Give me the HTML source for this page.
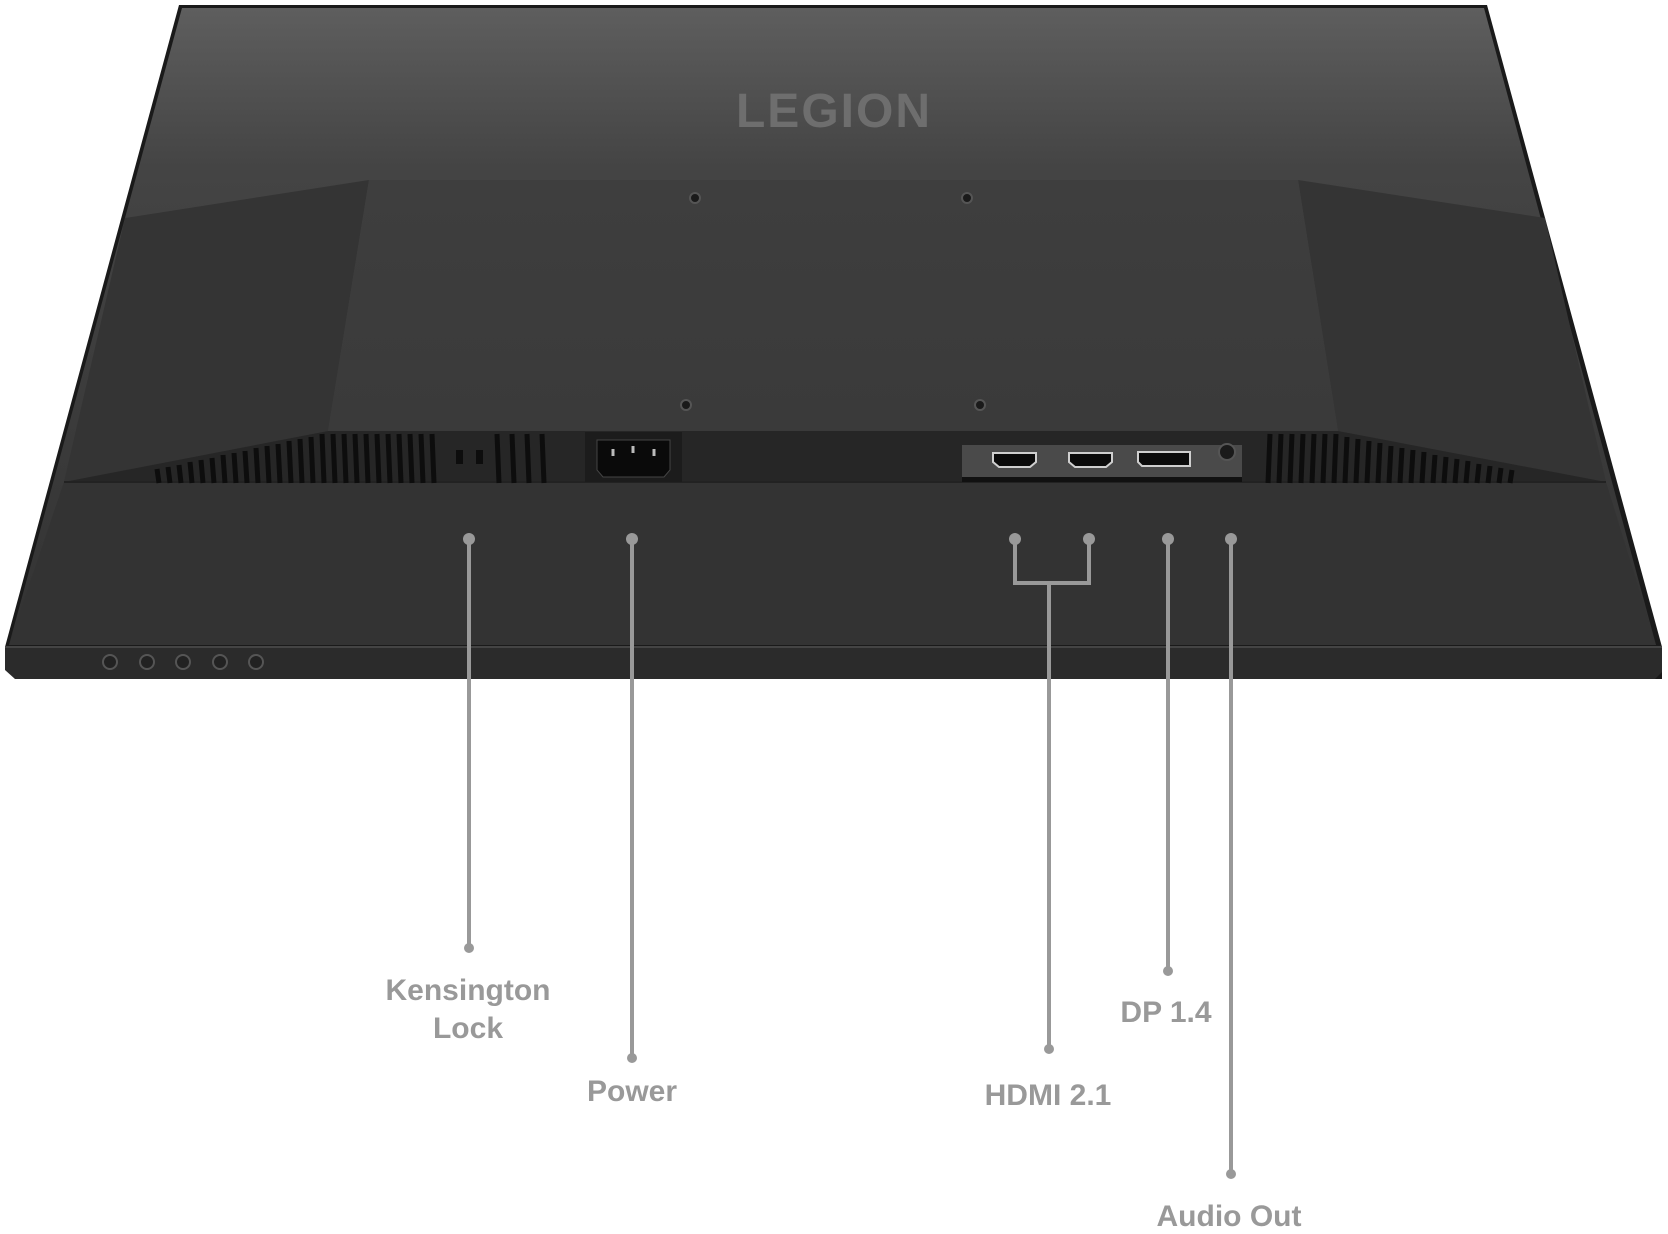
<!DOCTYPE html>
<html><head><meta charset="utf-8"><style>
html,body{margin:0;padding:0;background:#fff}
svg{display:block}
text{font-family:"Liberation Sans",sans-serif;fill:#999;font-size:30px;text-anchor:middle;font-weight:bold}
</style></head><body>
<svg width="1668" height="1234" viewBox="0 0 1668 1234" xmlns="http://www.w3.org/2000/svg">
<defs>
<linearGradient id="bg" x1="0" y1="0" x2="0" y2="1">
<stop offset="0" stop-color="#5e5e5e"/><stop offset="0.25" stop-color="#444"/><stop offset="1" stop-color="#333"/>
</linearGradient>
<linearGradient id="pn" x1="0" y1="0" x2="0" y2="1">
<stop offset="0" stop-color="#3e3e3e"/><stop offset="1" stop-color="#3a3a3a"/>
</linearGradient>
</defs>
<polygon points="179,5 1487,5 1662,647 1662,679 15,679 5,647" fill="#1a1a1a"/>
<polygon points="182,8 1484,8 1656,645 9,645" fill="url(#bg)"/>
<polygon points="5,647 1662,647 1662,672 1655,679 15,679 5,670" fill="#2b2b2b"/>
<line x1="5" y1="647" x2="1662" y2="647" stroke="#444" stroke-width="2"/>
<polygon points="125,218 369,180 328,431 64,482" fill="#343434"/>
<polygon points="1298,180 1545,218 1606,482 1338,431" fill="#343434"/>
<polygon points="369,180 1298,180 1338,431 328,431" fill="url(#pn)"/>
<polygon points="328,431 1338,431 1606,482 64,482" fill="#262626"/>
<polygon points="64,482 1606,482 1656,645 9,645" fill="#333"/>
<line x1="64" y1="482" x2="1606" y2="482" stroke="#222" stroke-width="2"/>
<g stroke="#0d0d0d" stroke-width="5">
<line x1="157" y1="469" x2="159" y2="483"/><line x1="168" y1="467" x2="170" y2="483"/><line x1="179" y1="465" x2="181" y2="483"/><line x1="190" y1="462" x2="192" y2="483"/><line x1="201" y1="460" x2="203" y2="483"/><line x1="212" y1="458" x2="214" y2="483"/><line x1="223" y1="455" x2="225" y2="483"/><line x1="234" y1="453" x2="236" y2="483"/><line x1="245" y1="451" x2="247" y2="483"/><line x1="256" y1="448" x2="258" y2="483"/><line x1="267" y1="446" x2="269" y2="483"/><line x1="278" y1="444" x2="280" y2="483"/><line x1="289" y1="441" x2="291" y2="483"/><line x1="300" y1="439" x2="302" y2="483"/><line x1="311" y1="437" x2="313" y2="483"/><line x1="322" y1="434" x2="324" y2="483"/><line x1="333" y1="434" x2="335" y2="483"/><line x1="344" y1="434" x2="346" y2="483"/><line x1="355" y1="434" x2="357" y2="483"/><line x1="366" y1="434" x2="368" y2="483"/><line x1="377" y1="434" x2="379" y2="483"/><line x1="388" y1="434" x2="390" y2="483"/><line x1="399" y1="434" x2="401" y2="483"/><line x1="410" y1="434" x2="412" y2="483"/><line x1="421" y1="434" x2="423" y2="483"/><line x1="432" y1="434" x2="434" y2="483"/>
<line x1="497" y1="434" x2="499" y2="483"/><line x1="512" y1="434" x2="514" y2="483"/><line x1="527" y1="434" x2="529" y2="483"/><line x1="542" y1="434" x2="544" y2="483"/>
</g>
<rect x="456" y="450" width="7" height="14" fill="#0d0d0d"/><rect x="476" y="450" width="7" height="14" fill="#0d0d0d"/>
<g stroke="#0d0d0d" stroke-width="5">
<line x1="1270" y1="434" x2="1268" y2="483"/><line x1="1281" y1="434" x2="1279" y2="483"/><line x1="1292" y1="434" x2="1290" y2="483"/><line x1="1303" y1="434" x2="1301" y2="483"/><line x1="1314" y1="434" x2="1312" y2="483"/><line x1="1325" y1="434" x2="1323" y2="483"/><line x1="1336" y1="434" x2="1334" y2="483"/><line x1="1347" y1="437" x2="1345" y2="483"/><line x1="1358" y1="439" x2="1356" y2="483"/><line x1="1369" y1="441" x2="1367" y2="483"/><line x1="1380" y1="443" x2="1378" y2="483"/><line x1="1391" y1="446" x2="1389" y2="483"/><line x1="1402" y1="448" x2="1400" y2="483"/><line x1="1413" y1="450" x2="1411" y2="483"/><line x1="1424" y1="452" x2="1422" y2="483"/><line x1="1435" y1="455" x2="1433" y2="483"/><line x1="1446" y1="457" x2="1444" y2="483"/><line x1="1457" y1="459" x2="1455" y2="483"/><line x1="1468" y1="461" x2="1466" y2="483"/><line x1="1479" y1="464" x2="1477" y2="483"/><line x1="1490" y1="466" x2="1488" y2="483"/><line x1="1501" y1="468" x2="1499" y2="483"/><line x1="1512" y1="470" x2="1510" y2="483"/>
</g>
<rect x="585" y="432" width="97" height="50" fill="#1c1c1c"/>
<polygon points="597,440 670,440 670,470 664,477 603,477 597,470" fill="#0a0a0a" stroke="#444"/>
<g stroke="#bbb" stroke-width="3"><line x1="613" y1="449" x2="613" y2="456"/><line x1="633" y1="446" x2="633" y2="453"/><line x1="654" y1="449" x2="654" y2="456"/></g>
<rect x="962" y="445" width="280" height="37" fill="#4a4a4a"/>
<rect x="962" y="477" width="280" height="5" fill="#111"/>
<g fill="#0b0b0b" stroke="#cfcfcf" stroke-width="2">
<polygon points="993,453 1036,453 1036,462 1030,467 999,467 993,462"/>
<polygon points="1069,453 1112,453 1112,462 1106,467 1075,467 1069,462"/>
<polygon points="1138,452 1190,452 1190,466 1142,466 1138,462"/>
</g>
<circle cx="1227" cy="452" r="8" fill="#1a1a1a" stroke="#555" stroke-width="2"/>
<g fill="#1a1a1a" stroke="#555" stroke-width="2">
<circle cx="695" cy="198" r="5"/><circle cx="967" cy="198" r="5"/><circle cx="686" cy="405" r="5"/><circle cx="980" cy="405" r="5"/>
</g>
<g fill="#222" stroke="#555" stroke-width="2">
<circle cx="110" cy="662" r="7"/><circle cx="147" cy="662" r="7"/><circle cx="183" cy="662" r="7"/><circle cx="220" cy="662" r="7"/><circle cx="256" cy="662" r="7"/>
</g>
<text x="834" y="127" style="font-size:48px;font-weight:bold;fill:#6e6e6e;letter-spacing:2px">LEGION</text>
<g stroke="#999" stroke-width="4" fill="none">
<line x1="469" y1="539" x2="469" y2="948"/>
<line x1="632" y1="539" x2="632" y2="1058"/>
<polyline points="1015,539 1015,583 1089,583 1089,539"/>
<line x1="1049" y1="583" x2="1049" y2="1049"/>
<line x1="1168" y1="539" x2="1168" y2="971"/>
<line x1="1231" y1="539" x2="1231" y2="1174"/>
</g>
<g fill="#999">
<circle cx="469" cy="539" r="6"/><circle cx="469" cy="948" r="5"/>
<circle cx="632" cy="539" r="6"/><circle cx="632" cy="1058" r="5"/>
<circle cx="1015" cy="539" r="6"/><circle cx="1089" cy="539" r="6"/><circle cx="1049" cy="1049" r="5"/>
<circle cx="1168" cy="539" r="6"/><circle cx="1168" cy="971" r="5"/>
<circle cx="1231" cy="539" r="6"/><circle cx="1231" cy="1174" r="5"/>
</g>
<text x="468" y="1000">Kensington</text>
<text x="468" y="1038">Lock</text>
<text x="632" y="1101">Power</text>
<text x="1048" y="1105">HDMI 2.1</text>
<text x="1166" y="1022">DP 1.4</text>
<text x="1229" y="1226">Audio Out</text>
</svg>
</body></html>
